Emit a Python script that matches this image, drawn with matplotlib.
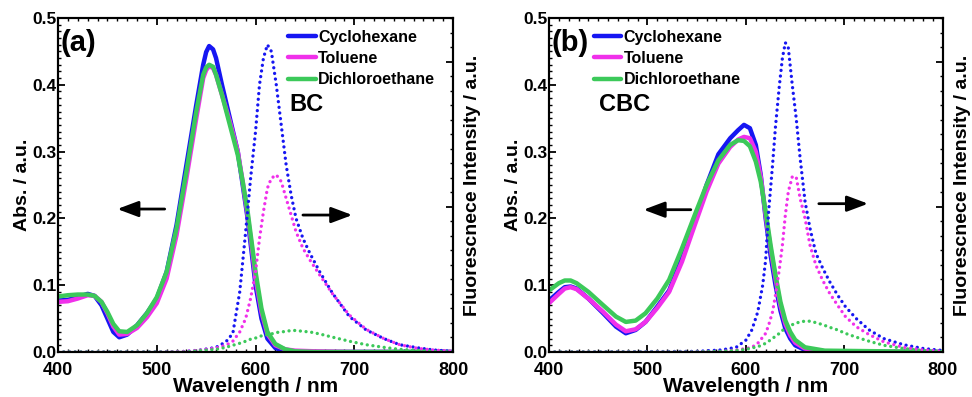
import matplotlib
matplotlib.use("Agg")
import matplotlib.pyplot as plt
from matplotlib.ticker import MultipleLocator

SOLVENTS = ["Cyclohexane", "Toluene", "Dichloroethane"]
COLORS = ["#1616f2", "#f030ea", "#3cc95a"]

# (a) BC absorption
BC_ABS_WL = [400, 410, 420, 430, 437, 444, 450, 456, 462, 470, 480, 490, 500, 510, 520,
             530, 540, 547, 550, 553, 557, 560, 566, 574, 582, 587, 592, 596, 600, 606,
             612, 620, 630, 640, 660, 700, 800]
BC_ABS_CYC = [0.077, 0.078, 0.082, 0.087, 0.084, 0.07, 0.05, 0.03, 0.022, 0.026,
              0.04, 0.058, 0.08, 0.12, 0.19, 0.28, 0.37, 0.43, 0.449, 0.458,
              0.453, 0.44, 0.40, 0.35, 0.30, 0.25, 0.20, 0.15, 0.10, 0.05,
              0.02, 0.006, 0.001, 0, 0, 0, 0]
BC_ABS_TOL = [0.075, 0.076, 0.08, 0.085, 0.084, 0.075, 0.058, 0.038, 0.026, 0.027,
              0.036, 0.052, 0.073, 0.11, 0.175, 0.26, 0.35, 0.41, 0.422, 0.428,
              0.425, 0.415, 0.385, 0.345, 0.30, 0.255, 0.205, 0.16, 0.11, 0.06,
              0.027, 0.01, 0.004, 0.002, 0.001, 0, 0]
BC_ABS_DCE = [0.083, 0.085, 0.086, 0.086, 0.084, 0.075, 0.06, 0.042, 0.031, 0.03,
              0.04, 0.058, 0.082, 0.12, 0.185, 0.27, 0.36, 0.415, 0.426, 0.43,
              0.427, 0.415, 0.385, 0.34, 0.295, 0.255, 0.21, 0.165, 0.12, 0.065,
              0.03, 0.012, 0.004, 0.001, 0, 0, 0]

# (a) BC fluorescence (right axis, a.u.)
BC_EM_WL = [400, 500, 530, 545, 560, 570, 577, 584, 590, 595, 600, 604, 608, 612, 616,
            621, 626, 631, 636, 641, 648, 655, 665, 678, 695, 712, 730, 746, 765, 780, 800]
BC_EM_CYC = [0, 0, 0.002, 0.007, 0.016, 0.035, 0.064, 0.207, 0.414, 0.598,
             0.759, 0.92, 1.012, 1.058, 1.035, 0.92, 0.782, 0.644, 0.541, 0.46,
             0.391, 0.34, 0.276, 0.202, 0.122, 0.076, 0.046, 0.025, 0.014, 0.007, 0.002]
BC_EM_TOL = [0, 0, 0.002, 0.007, 0.014, 0.023, 0.037, 0.069, 0.115, 0.184,
             0.276, 0.39, 0.483, 0.564, 0.598, 0.61, 0.587, 0.529, 0.472, 0.414,
             0.357, 0.317, 0.265, 0.2, 0.127, 0.078, 0.046, 0.025, 0.012, 0.007, 0.002]
BC_EM_DCE = [0, 0, 0, 0.005, 0.009, 0.016, 0.023, 0.03, 0.037, 0.044,
             0.048, 0.053, 0.058, 0.06, 0.062, 0.067, 0.069, 0.071, 0.074, 0.074,
             0.071, 0.069, 0.062, 0.051, 0.037, 0.025, 0.016, 0.009, 0.005, 0.002, 0]

# (b) CBC absorption
CBC_ABS_WL = [400, 410, 416, 422, 428, 440, 455, 468, 478, 488, 498, 510, 522, 535, 548,
              560, 572, 584, 592, 598, 604, 610, 615, 620, 625, 630, 635, 640, 645, 650,
              660, 680, 800]
CBC_ABS_CYC = [0.077, 0.09, 0.097, 0.098, 0.095, 0.08, 0.058, 0.038, 0.028, 0.033,
               0.045, 0.068, 0.092, 0.14, 0.195, 0.25, 0.296, 0.32, 0.332, 0.34,
               0.335, 0.31, 0.265, 0.2, 0.145, 0.1, 0.062, 0.035, 0.02, 0.01,
               0.003, 0, 0]
CBC_ABS_TOL = [0.073, 0.087, 0.095, 0.097, 0.094, 0.08, 0.06, 0.041, 0.031, 0.034,
               0.045, 0.066, 0.09, 0.135, 0.19, 0.24, 0.282, 0.307, 0.318, 0.322,
               0.32, 0.3, 0.262, 0.205, 0.155, 0.11, 0.07, 0.042, 0.025, 0.014,
               0.005, 0.001, 0]
CBC_ABS_DCE = [0.092, 0.103, 0.107, 0.107, 0.103, 0.09, 0.07, 0.053, 0.045, 0.047,
               0.058, 0.08, 0.108, 0.155, 0.205, 0.25, 0.287, 0.31, 0.317, 0.316,
               0.308, 0.285, 0.255, 0.21, 0.16, 0.115, 0.075, 0.047, 0.03, 0.018,
               0.007, 0.002, 0]

# (b) CBC fluorescence (right axis, a.u.)
CBC_EM_WL = [400, 550, 575, 590, 600, 606, 612, 617, 620, 623, 627, 630, 634, 637, 640,
             643, 647, 651, 655, 660, 665, 671, 678, 685, 693, 701, 712, 725, 740, 760,
             780, 800]
CBC_EM_CYC = [0, 0.002, 0.007, 0.016, 0.041, 0.076, 0.138, 0.23, 0.317, 0.483,
              0.644, 0.777, 0.92, 1.012, 1.065, 1.047, 0.92, 0.805, 0.667, 0.518,
              0.426, 0.34, 0.288, 0.242, 0.196, 0.156, 0.115, 0.076, 0.046, 0.025,
              0.012, 0.005]
CBC_EM_TOL = [0, 0, 0.002, 0.007, 0.012, 0.016, 0.03, 0.051, 0.064, 0.092,
              0.138, 0.196, 0.288, 0.368, 0.472, 0.552, 0.603, 0.603, 0.529, 0.46,
              0.368, 0.299, 0.246, 0.202, 0.161, 0.122, 0.087, 0.06, 0.035, 0.016,
              0.007, 0.002]
CBC_EM_DCE = [0, 0, 0.002, 0.005, 0.009, 0.014, 0.018, 0.025, 0.03, 0.037,
              0.046, 0.055, 0.064, 0.074, 0.081, 0.087, 0.094, 0.099, 0.104, 0.106,
              0.106, 0.101, 0.094, 0.085, 0.076, 0.064, 0.051, 0.037, 0.023, 0.012,
              0.005, 0.002]


def set_style() -> None:
    plt.rcParams.update(
        {
            "font.family": ["Liberation Sans", "DejaVu Sans"],
            "font.weight": "bold",
            "axes.labelweight": "bold",
            "axes.linewidth": 1.5,
            "xtick.direction": "in",
            "ytick.direction": "in",
            "xtick.major.size": 5,
            "ytick.major.size": 5,
            "xtick.minor.size": 2.5,
            "ytick.minor.size": 2.5,
            "xtick.major.width": 1.3,
            "ytick.major.width": 1.3,
            "xtick.minor.width": 1.0,
            "ytick.minor.width": 1.0,
        }
    )


def panel(ax, wl, absorb, em_wl, emission, tag, name, legend_x, name_xy, arrows):
    for values, color, label in zip(absorb, COLORS, SOLVENTS):
        ax.plot(wl, values, color=color, linewidth=3.2, label=label,
                solid_capstyle="round", solid_joinstyle="round")
    ax.set_xlim(400, 800)
    ax.set_ylim(0, 0.5)
    ax.xaxis.set_major_locator(MultipleLocator(100))
    ax.xaxis.set_minor_locator(MultipleLocator(10))
    ax.yaxis.set_major_locator(MultipleLocator(0.1))
    ax.yaxis.set_minor_locator(MultipleLocator(0.01))
    ax.tick_params(axis="x", which="both", top=True, labelsize=13, pad=7)
    ax.tick_params(axis="y", which="both", labelsize=12.5, pad=1)
    ax.set_xlabel("Wavelength / nm", fontsize=15, labelpad=-1)
    ax.set_ylabel("Abs. / a.u.", fontsize=14, labelpad=1)

    twin = ax.twinx()
    for values, color in zip(emission, COLORS):
        twin.plot(em_wl, values, color=color, linewidth=2.4, linestyle=(0, (0.01, 1.7)),
                  dash_capstyle="round")
    twin.set_ylim(0, 1.15)
    twin.yaxis.set_major_locator(MultipleLocator(0.5))
    twin.yaxis.set_minor_locator(MultipleLocator(0.05))
    twin.tick_params(axis="y", which="both", direction="in", labelright=False)
    twin.set_ylabel("Fluorescnece Intensity / a.u.", fontsize=14, labelpad=8)

    ax.text(403, 0.462, tag, fontsize=21, fontweight="bold", va="center", ha="left")
    ax.text(name_xy[0], name_xy[1], name, fontsize=17, fontweight="bold", va="center", ha="left")
    for (x0, x1, y) in arrows:
        ax.annotate("", xy=(x1, y), xytext=(x0, y),
                    arrowprops=dict(arrowstyle="-|>,head_length=0.8,head_width=0.3",
                                    color="black", lw=2.0,
                                    mutation_scale=16, shrinkA=0, shrinkB=0))
    ax.legend(loc="upper left", bbox_to_anchor=(legend_x, 0.975), frameon=False,
              fontsize=11.5, handlelength=1.75, handletextpad=0.12, labelspacing=0.4,
              borderaxespad=0, borderpad=0.2)


def main() -> None:
    set_style()
    fig = plt.figure(figsize=(9.72, 3.97), dpi=100)
    ax1 = fig.add_axes([0.0597, 0.1134, 0.4064, 0.8413])
    ax2 = fig.add_axes([0.5648, 0.1134, 0.4053, 0.8413])
    panel(ax1, BC_ABS_WL, [BC_ABS_CYC, BC_ABS_TOL, BC_ABS_DCE],
          BC_EM_WL, [BC_EM_CYC, BC_EM_TOL, BC_EM_DCE],
          "(a)", "BC", 0.575, (634, 0.37),
          [(508, 460, 0.214), (648, 698, 0.205)])
    panel(ax2, CBC_ABS_WL, [CBC_ABS_CYC, CBC_ABS_TOL, CBC_ABS_DCE],
          CBC_EM_WL, [CBC_EM_CYC, CBC_EM_TOL, CBC_EM_DCE],
          "(b)", "CBC", 0.105, (451, 0.37),
          [(544, 496, 0.213), (674, 724, 0.222)])
    fig.savefig("out.png", dpi=100)


if __name__ == "__main__":
    main()
